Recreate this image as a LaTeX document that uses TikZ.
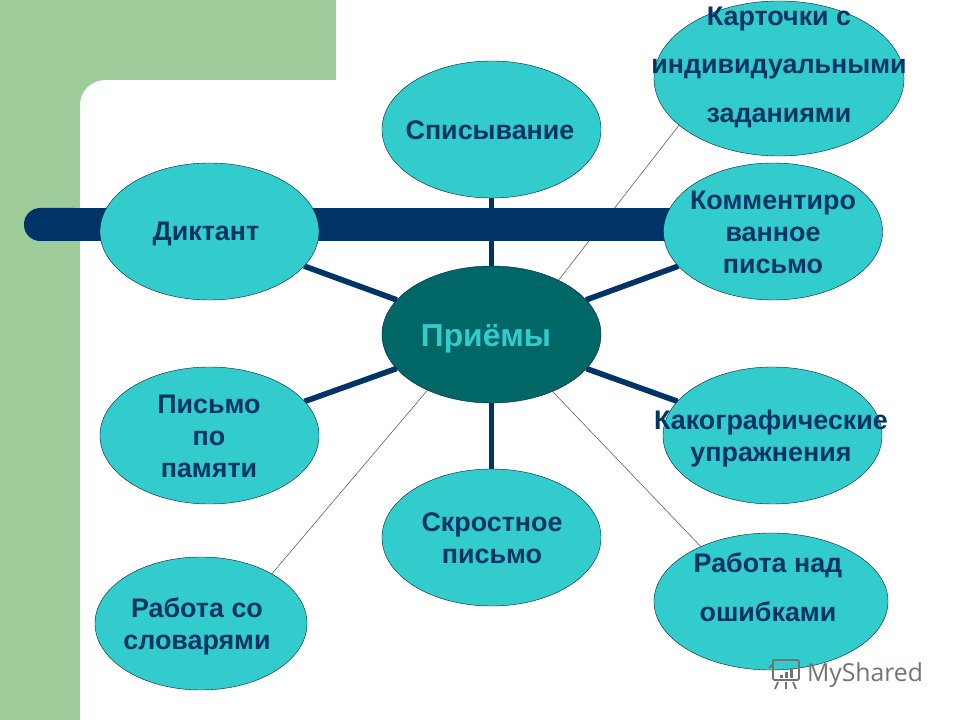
\documentclass[tikz,border=0pt]{standalone}
\usepackage{fontspec}
\setmainfont{Liberation Sans}
\newfontfamily\markfont{Open Sans}
\usetikzlibrary{backgrounds}
\usetikzlibrary{shapes}
\definecolor{zold}{HTML}{9FCC9B}
\definecolor{kek}{HTML}{003366}
\definecolor{turk}{HTML}{33CCCC}
\definecolor{sotet}{HTML}{006666}
\definecolor{jel}{HTML}{6F7573}
\tikzset{
  priem/.style={ellipse,draw=kek!70!black,fill=turk,line width=.3pt,inner sep=0,outer sep=0,minimum width=5.475cm,minimum height=3.425cm},
  felirat/.style={align=center,text=kek,inner sep=0,font=\bfseries\fontsize{19.1}{22.8}\selectfont},
  tagas/.style={felirat,font=\bfseries\fontsize{19.1}{34.5}\selectfont},
  vastag/.style={draw=kek,line width=4pt},
  vekony/.style={draw=black!65,line width=.4pt},
  jelzes/.style={draw=jel,line width=1.3pt}
}
\begin{document}
\begin{tikzpicture}[x=.025cm,y=-.025cm]
      \useasboundingbox (0,0) rectangle (960,720);

      \node[priem] at (491.5,334.5) (centr) [fill=sotet] {};
      \node[priem] at (491.5,129.5) (spis) {};
      \node[priem] at (209.5,231.5) (dikt) {};
      \node[priem] at (773,231.5) (komm) {};
      \node[priem] at (209.5,435.5) (pamy) {};
      \node[priem] at (772.5,435.5) (kako) {};
      \node[priem] at (491.5,537.5) (skro) {};
      \node[priem,minimum width=6.25cm,minimum height=3.875cm] at (779,78.5) (kart) {};
      \node[priem,minimum width=5.3cm,minimum height=3.325cm] at (201,623.5) (slov) {};
      \node[priem,minimum width=5.85cm] at (771,601.5) (rabo) {};

      \node[felirat,text=turk,font=\bfseries\fontsize{22.6}{26}\selectfont] at (486,339) (tcentr) {Приёмы};
      \node[felirat] at (490,130) (tspis) {Списывание};
      \node[felirat] at (206,234) (tdikt) {Диктант};
      \node[felirat] at (773,232) (tkomm) {Комментиро\\ванное\\письмо};
      \node[felirat] at (209,436) (tpamy) {Письмо\\по\\памяти};
      \node[felirat] at (771,439) (tkako) {Какографические\\упражнения};
      \node[felirat] at (492,538) (tskro) {Скростное\\письмо};
      \node[tagas] at (779,67) (tkart) {Карточки с\\индивидуальными\\заданиями};
      \node[felirat] at (197,626) (tslov) {Работа со\\словарями};
      \node[tagas] at (768,587.5) (trabo) {Работа над\\ошибками};

      \node[text=jel,inner sep=0,font=\markfont\fontsize{17.6}{21}\selectfont] at (865,675) (tmark) {MyShared};

      \begin{pgfonlayer}{background}
        \fill[zold] (0,0)--(336,0)--(336,80)--(105,80) .. controls (91,80) and (80,91) .. (80,105)--(80,720)--(0,720)--cycle;
        \draw[vekony] (centr.39.5)--(kart.205.7);
        \draw[vekony] (centr.221)--(slov.35);
        \draw[vekony] (centr.-43.5)--(rabo.142);
        \fill[kek,rounded corners=11.5pt] (24,208) rectangle (90,241);
        \fill[kek] (60,208) rectangle (700,241);
        \draw[vastag] (centr)--(spis);
        \draw[vastag] (centr)--(dikt);
        \draw[vastag] (centr)--(komm);
        \draw[vastag] (centr)--(pamy);
        \draw[vastag] (centr)--(kako);
        \draw[vastag] (centr)--(skro);
      \end{pgfonlayer}

      %jelzes
      \draw[jelzes,rounded corners=1pt] (773,660)--(799,660)--(799,680)--(773,680)--(773,660);
      \draw[jelzes] (769,668)--(773,664);
      \draw[jelzes] (778,682)--(775,689);
      \draw[jelzes] (786,682)--(786,689);
      \draw[jelzes] (793,682)--(796,689);
      \fill[jel] (780,675) rectangle (783,678);
      \fill[jel] (785,672) rectangle (788,678);
      \fill[jel] (790,668) rectangle (793,678);
\end{tikzpicture}
\end{document}
